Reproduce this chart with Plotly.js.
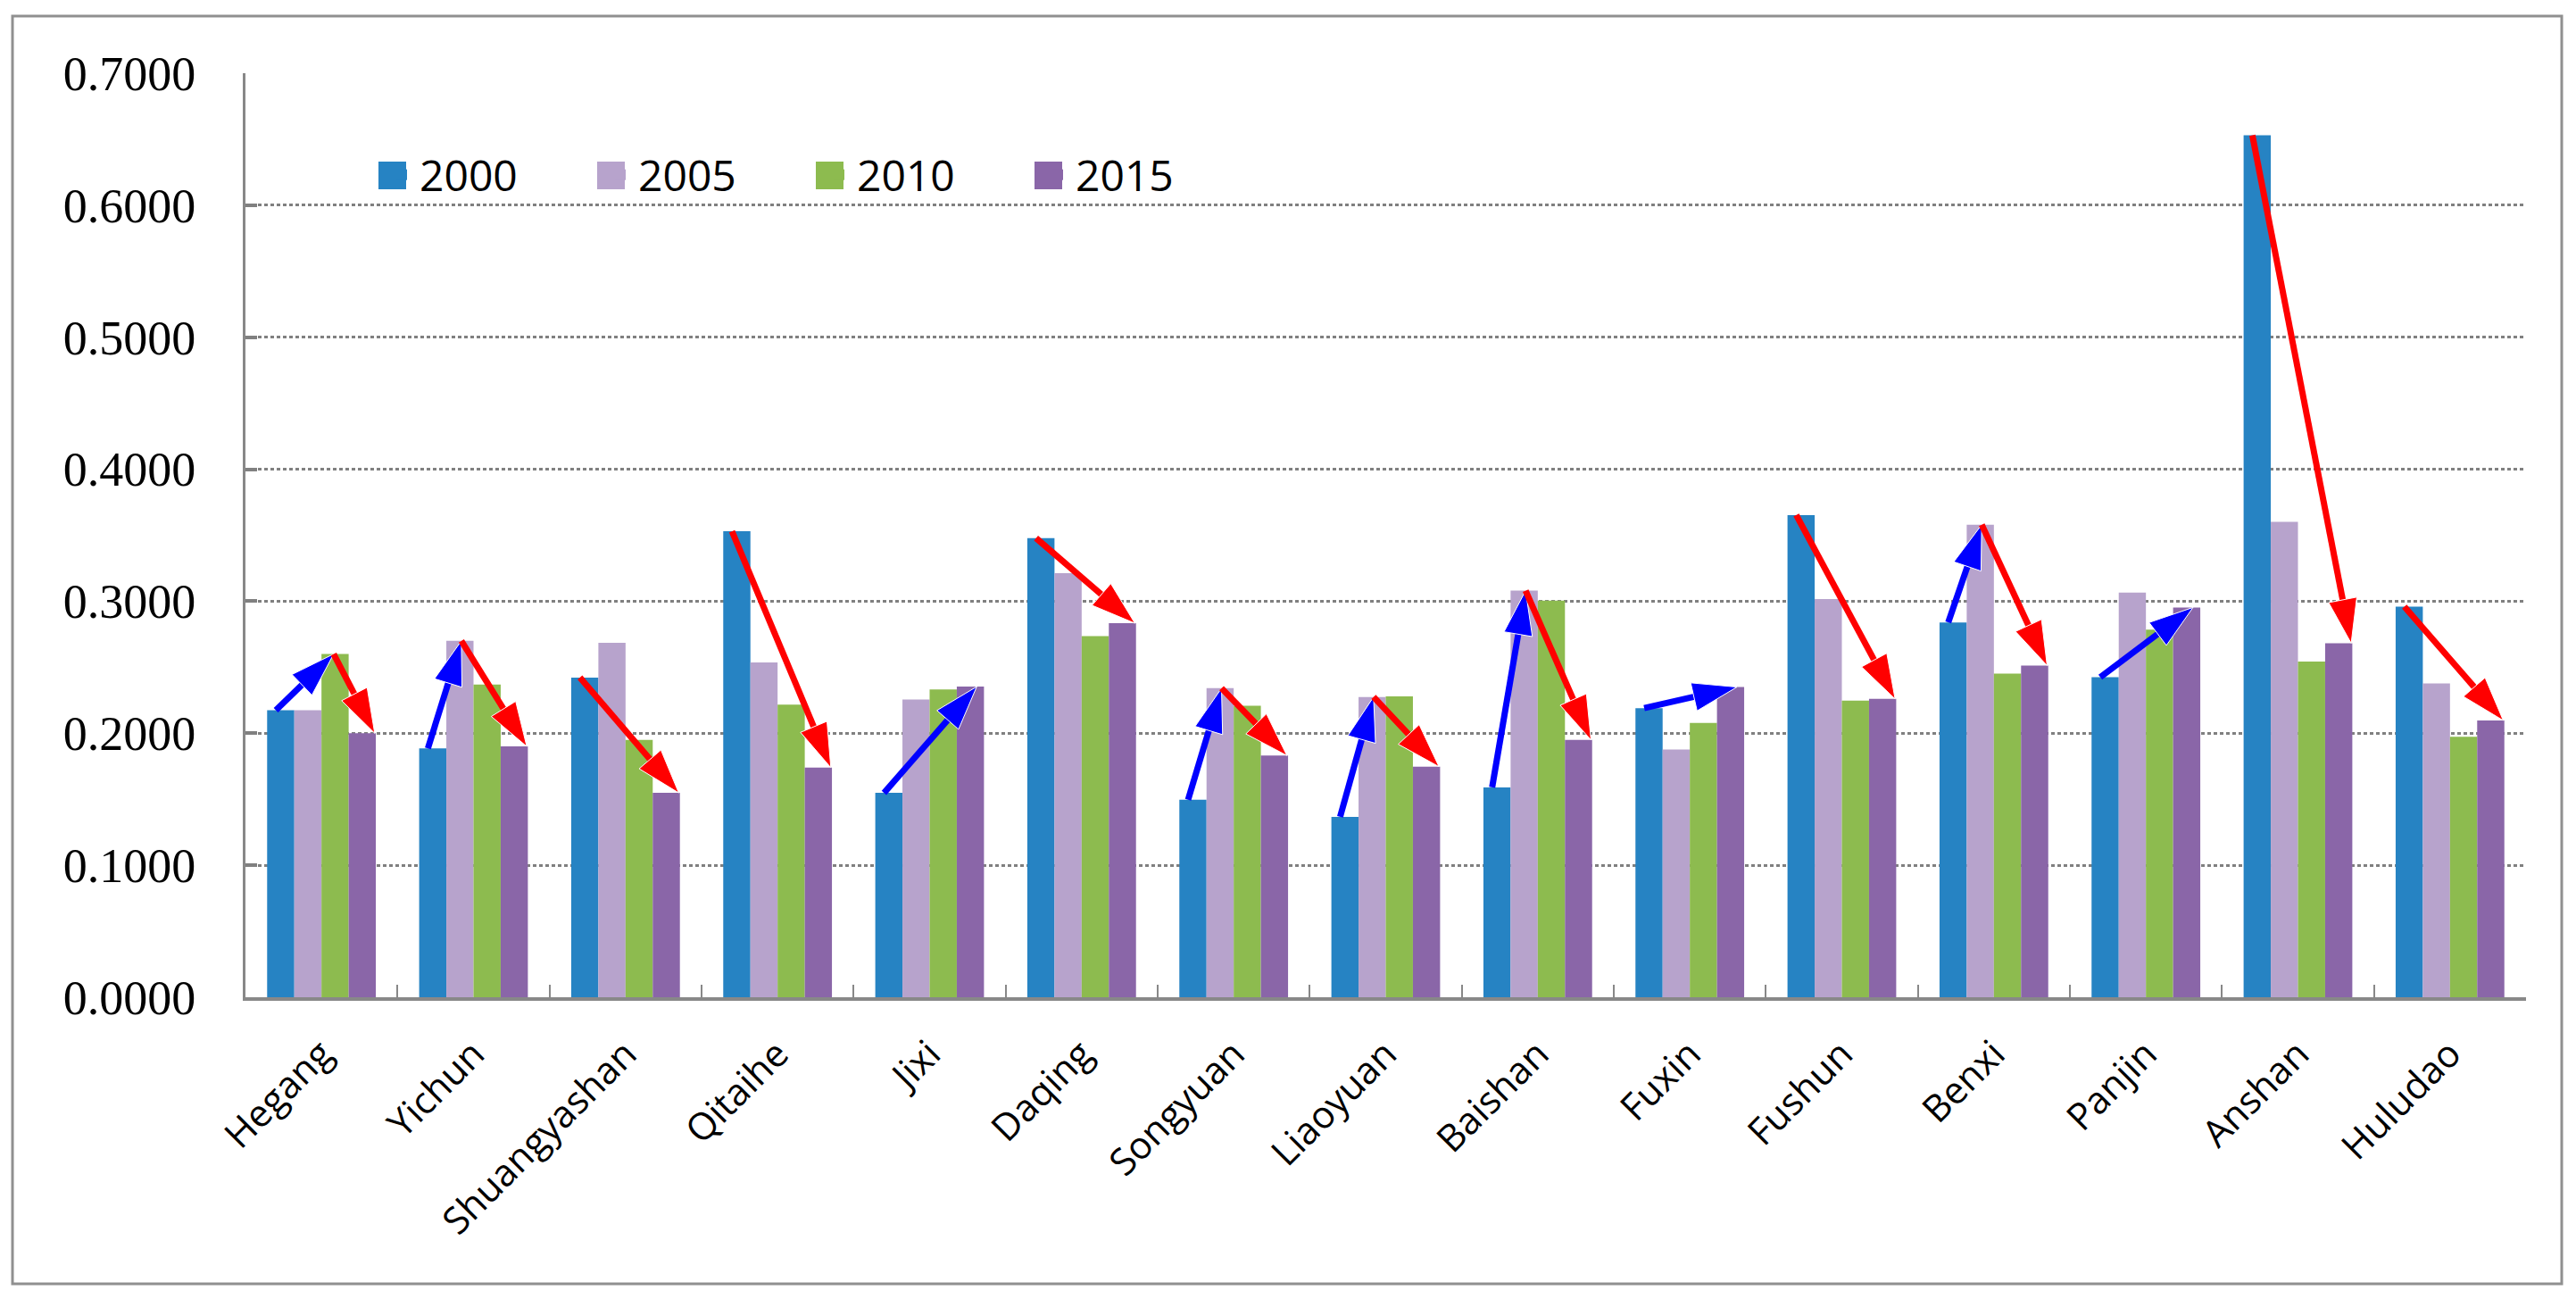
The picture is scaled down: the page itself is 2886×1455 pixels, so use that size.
<!DOCTYPE html>
<html>
<head>
<meta charset="utf-8">
<script src="https://cdn.plot.ly/plotly-3.0.1.min.js"></script>
<style>
  html, body { margin: 0; padding: 0; background: #ffffff; }
  #chart { width: 2886px; height: 1455px; }
</style>
</head>
<body>
<div id="chart"></div>
<script>
// ---- data ----
const cities = ['Hegang', 'Yichun', 'Shuangyashan', 'Qitaihe', 'Jixi', 'Daqing', 'Songyuan',
  'Liaoyuan', 'Baishan', 'Fuxin', 'Fushun', 'Benxi', 'Panjin', 'Anshan', 'Huludao'];
const years = ['2000', '2005', '2010', '2015'];
const v2000 = [0.2175, 0.1885, 0.2422, 0.3530, 0.1548, 0.3478, 0.1496, 0.1367, 0.1590, 0.2190, 0.3653, 0.2839, 0.2425, 0.6530, 0.2959];
const v2005 = [0.2175, 0.2700, 0.2685, 0.2537, 0.2256, 0.3213, 0.2341, 0.2275, 0.3080, 0.1876, 0.3017, 0.3580, 0.3065, 0.3602, 0.2377];
const v2010 = [0.2600, 0.2368, 0.1950, 0.2217, 0.2332, 0.2736, 0.2208, 0.2280, 0.3005, 0.2078, 0.2247, 0.2452, 0.2784, 0.2543, 0.1973];
const v2015 = [0.2000, 0.1900, 0.1548, 0.1740, 0.2353, 0.2833, 0.1831, 0.1747, 0.1949, 0.2350, 0.2260, 0.2513, 0.2953, 0.2682, 0.2097];
const yTicks = [0, 0.1, 0.2, 0.3, 0.4, 0.5, 0.6, 0.7];
// trend arrows: city index, from-year index, to-year index
const arrowCity = [0, 0, 1, 1, 2, 3, 4, 5, 6, 6, 7, 7, 8, 8, 9, 10, 11, 11, 12, 13, 14];
const arrowFrom = [0, 2, 0, 1, 0, 0, 0, 0, 0, 1, 0, 1, 0, 1, 0, 0, 0, 1, 0, 0, 0];
const arrowTo   = [2, 3, 1, 3, 3, 3, 3, 3, 1, 3, 1, 3, 1, 3, 3, 3, 1, 3, 3, 3, 3];

// ---- styles ----
const colors = ['#2683C3', '#B7A3CC', '#8DBB4F', '#8A66A8'];
const series = [v2000, v2005, v2010, v2015];
const tailOffset = [-0.30, -0.08, 0.08, 0.27];
const headOffsetUp = [-0.27, -0.08, 0.08, 0.31];
const headOffsetDown = [-0.27, -0.08, 0.08, 0.35];

const traces = series.map((vals, i) => ({
  type: 'bar',
  name: years[i],
  x: cities,
  y: vals,
  marker: { color: colors[i] },
  hoverinfo: 'x+y+name'
}));

arrowCity.forEach((c, k) => {
  const f = arrowFrom[k], t = arrowTo[k];
  const y0 = series[f][c], y1 = series[t][c];
  const up = y1 > y0;
  const col = up ? '#0000FF' : '#FF0000';
  traces.push({
    type: 'scatter',
    mode: 'lines+markers',
    xaxis: 'x2', yaxis: 'y',
    x: [c + tailOffset[f], c + (up ? headOffsetUp[t] : headOffsetDown[t])],
    y: [y0, y1],
    line: { color: col, width: 7 },
    marker: { symbol: 'arrow', angleref: 'previous', size: [0, 52], opacity: [0, 1], color: col },
    showlegend: false,
    hoverinfo: 'skip',
    cliponaxis: false
  });
});

const W = 2886, H = 1455;
const mL = 275, mR = 56, mT = 82, mB = 338;
const pw = W - mL - mR, ph = H - mT - mB;
const px = v => (v - mL) / pw;
const py = v => (H - mB - v) / ph;

// larger legend swatches (the built-in legend symbols are fixed at 12px)
const legendStep = 245, swLeft = 424, swSize = 31, swTop = 181;
const swatches = years.map((yr, i) => ({
  type: 'rect', xref: 'paper', yref: 'paper', layer: 'above',
  x0: px(swLeft + legendStep * i), x1: px(swLeft + swSize + legendStep * i),
  y0: py(swTop + swSize), y1: py(swTop),
  line: { width: 0 }, fillcolor: colors[i]
}));

const layout = {
  width: W, height: H,
  margin: { l: mL, r: mR, t: mT, b: mB, pad: 0 },
  paper_bgcolor: '#ffffff',
  plot_bgcolor: '#ffffff',
  barmode: 'group',
  bargap: 0.285,
  bargroupgap: 0,
  showlegend: true,
  legend: {
    orientation: 'h',
    x: px(430), xanchor: 'left',
    y: py(196), yanchor: 'middle',
    font: { family: 'Open Sans, sans-serif', size: 48, color: '#000000' },
    entrywidth: 200, entrywidthmode: 'pixels',
    bgcolor: 'rgba(0,0,0,0)',
    traceorder: 'normal'
  },
  xaxis: {
    type: 'category',
    showgrid: false,
    showline: true, linecolor: '#888888', linewidth: 4,
    ticks: 'inside', tickson: 'boundaries', ticklen: 14, tickwidth: 2, tickcolor: '#888888',
    tickangle: -45,
    tickfont: { family: 'Open Sans, sans-serif', size: 42, color: '#000000' },
    ticklabelstandoff: 18,
    zeroline: false,
    fixedrange: true
  },
  xaxis2: {
    overlaying: 'x',
    range: [-0.5, cities.length - 0.5],
    visible: false,
    fixedrange: true
  },
  yaxis: {
    range: [0, 0.7],
    tickvals: yTicks,
    tickformat: '.4f',
    showgrid: true, gridcolor: '#808080', gridwidth: 3, griddash: '4px,3px',
    showline: true, linecolor: '#888888', linewidth: 3,
    ticks: 'inside', ticklen: 13, tickwidth: 4, tickcolor: '#808080',
    tickfont: { family: 'Liberation Serif, Times New Roman, serif', size: 54, color: '#000000' },
    ticklabelstandoff: 42,
    zeroline: false,
    fixedrange: true
  },
  shapes: [{
    type: 'rect', xref: 'paper', yref: 'paper', layer: 'below',
    x0: px(14), x1: px(2870), y0: py(1438), y1: py(18),
    line: { color: '#909090', width: 3 }, fillcolor: 'rgba(0,0,0,0)'
  }].concat(swatches)
};

Plotly.newPlot('chart', traces, layout, { displayModeBar: false, responsive: false });
</script>
</body>
</html>
